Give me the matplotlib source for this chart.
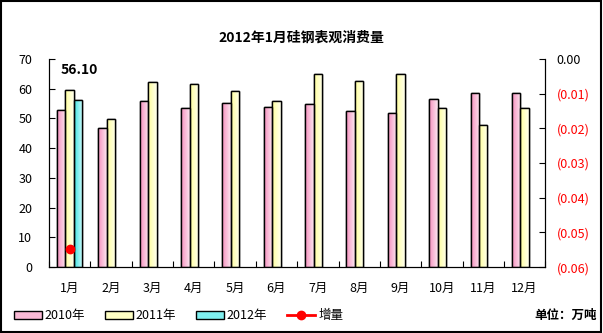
import numpy as np
import matplotlib.pyplot as plt
from matplotlib.patches import Rectangle
from matplotlib.colors import LinearSegmentedColormap

plt.rcParams['font.family'] = ['Noto Sans CJK SC', 'DejaVu Sans']

months = ['1月', '2月', '3月', '4月', '5月', '6月', '7月', '8月', '9月', '10月', '11月', '12月']
y2010 = [52.8, 46.8, 55.9, 53.5, 55.2, 53.9, 54.9, 52.5, 51.9, 56.6, 58.6, 58.6]
y2011 = [59.5, 49.8, 62.3, 61.6, 59.3, 55.9, 65.0, 62.6, 65.0, 53.5, 47.8, 53.5]
y2012 = [56.1]
incr = [-0.0548]


def gradient_bars(ax, bars, c1, c2):
    cmap = LinearSegmentedColormap.from_list('g', [c1, c2])
    grad = np.linspace(0, 1, 64).reshape(1, -1)
    for b in bars:
        x0, y0 = b.get_x(), b.get_y()
        im = ax.imshow(grad, cmap=cmap, extent=[x0, x0 + b.get_width(), y0, y0 + b.get_height()],
                       aspect='auto', zorder=b.get_zorder() + 0.1)
        im.set_clip_path(b)
        edge = Rectangle((x0, y0), b.get_width(), b.get_height(), fill=False,
                         edgecolor='black', linewidth=1, zorder=b.get_zorder() + 0.2)
        ax.add_patch(edge)


fig = plt.figure(figsize=(6.03, 3.33), dpi=100)
ax = fig.add_axes([0.0813, 0.198, 0.823, 0.625])
x = np.arange(len(months))
w = 0.205
b1 = ax.bar(x - w, y2010, w, color='#F9B9D5', edgecolor='black', linewidth=1, label='2010年')
b2 = ax.bar(x, y2011, w, color='#FFFFC4', edgecolor='black', linewidth=1, label='2011年')
b3 = ax.bar(x[:len(y2012)] + w, y2012, w, color='#7FEFEF', edgecolor='black', linewidth=1, label='2012年')
gradient_bars(ax, b1, '#F590BE', '#FDE6F0')
gradient_bars(ax, b2, '#FFFF9E', '#FFFFEE')
gradient_bars(ax, b3, '#40E4E4', '#D0FAFA')
ax.set_xlim(-0.5, 11.5)
ax.set_ylim(0, 70)
ax.set_yticks(range(0, 71, 10))
ax.set_xticks(np.arange(-0.5, 12, 1))
ax.set_xticklabels([])
ax.tick_params(axis='x', direction='in', length=4)
ax.tick_params(axis='y', direction='in', length=4, labelsize=9, pad=12)
for i, m in enumerate(months):
    ax.text(i, -5, m, ha='center', va='top', fontsize=9)
ax.spines['top'].set_visible(False)
ax.text(0.22, 66.3, '56.10', fontsize=10, fontweight='bold', ha='center', va='center')

ax2 = ax.twinx()
ax2.set_ylim(-0.06, 0)
ax2.set_yticks(np.linspace(-0.06, 0, 7))
ax2.set_yticklabels(['(0.06)', '(0.05)', '(0.04)', '(0.03)', '(0.02)', '(0.01)', '0.00'])
for lab in ax2.get_yticklabels():
    if lab.get_text().startswith('('):
        lab.set_color('red')
ax2.tick_params(axis='y', direction='in', length=4, labelsize=9, pad=8)
ax2.spines['top'].set_visible(False)
ax2.plot(x[:len(incr)], incr, color='red', marker='o', markersize=6, linewidth=2, label='增量')

fig.text(0.5, 0.875, '2012年1月硅钢表观消费量', ha='center', fontsize=10, fontweight='bold')

h1, l1 = ax.get_legend_handles_labels()
h2, l2 = ax2.get_legend_handles_labels()
fig.legend(h1 + h2, l1 + l2, loc='center left', bbox_to_anchor=(0.015, 0.052), ncol=4, frameon=False,
           fontsize=9, handlelength=2.2, handleheight=0.6, columnspacing=1.6, handletextpad=0.25,
           borderaxespad=0)
fig.text(0.99, 0.052, '单位：万吨', ha='right', va='center', fontsize=9, fontweight='bold')

fig.patches.append(Rectangle((0.002, 0.003), 0.995, 0.993, transform=fig.transFigure,
                             fill=False, edgecolor='black', linewidth=1.5))
fig.savefig('out.png', dpi=100)
